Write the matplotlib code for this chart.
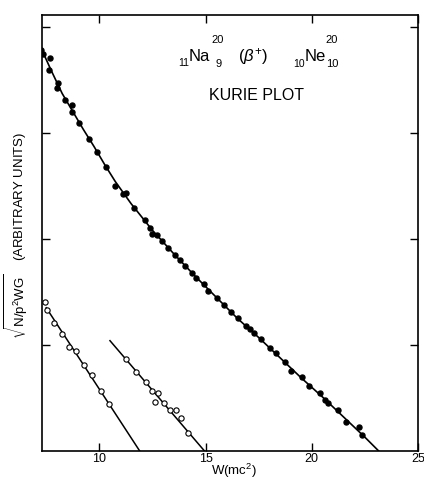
import matplotlib.pyplot as plt

plt.rcParams['font.family'] = ['Liberation Sans', 'DejaVu Sans']
plt.rcParams['mathtext.fontset'] = 'custom'
plt.rcParams['mathtext.rm'] = 'Liberation Sans'
plt.rcParams['mathtext.it'] = 'Liberation Sans:italic'

# Kurie plot, main group (filled dots)
w_main = [7.26, 7.37, 7.69, 7.65, 8.04, 8.00, 8.39, 8.72, 8.73, 9.06, 9.52, 9.89,
          10.30, 10.74, 11.13, 11.25, 11.64, 12.16, 12.39, 12.50, 12.72, 12.93,
          13.25, 13.56, 13.80, 14.05, 14.35, 14.57, 14.91, 15.13, 15.55, 15.87,
          16.18, 16.55, 16.90, 17.09, 17.30, 17.59, 18.04, 18.30, 18.73, 19.03,
          19.55, 19.86, 20.41, 20.61, 20.74, 21.25, 21.61, 22.21, 22.36]
k_main = [3.78, 3.74, 3.70, 3.59, 3.47, 3.42, 3.31, 3.26, 3.20, 3.09, 2.94, 2.82,
          2.68, 2.50, 2.42, 2.43, 2.29, 2.18, 2.10, 2.05, 2.04, 1.98,
          1.91, 1.85, 1.80, 1.74, 1.68, 1.63, 1.57, 1.51, 1.44, 1.38,
          1.31, 1.25, 1.18, 1.15, 1.11, 1.06, 0.97, 0.92, 0.84, 0.75,
          0.70, 0.61, 0.55, 0.48, 0.45, 0.39, 0.27, 0.23, 0.15]

# drawn curve through the main group
w_fit = [7.25, 7.75, 8.25, 8.75, 9.25, 9.75, 10.25, 10.75, 11.5, 12.5, 13.5,
         14.5, 15.5, 16.5, 17.5, 18.5, 19.5, 20.5, 21.5, 22.5, 23.15]
k_fit = [3.80, 3.58, 3.37, 3.20, 3.03, 2.87, 2.70, 2.54, 2.33, 2.08, 1.86,
         1.65, 1.45, 1.25, 1.07, 0.88, 0.69, 0.51, 0.32, 0.13, 0.0]

# first low group (open circles) and its line
w_low1 = [7.42, 7.55, 7.86, 8.23, 8.57, 8.89, 9.26, 9.65, 10.08, 10.47]
k_low1 = [1.40, 1.33, 1.21, 1.10, 0.98, 0.94, 0.81, 0.72, 0.57, 0.44]
w_line1 = [7.50, 11.90]
k_line1 = [1.35, 0.0]

# second low group (open circles) and its line
w_low2 = [11.27, 11.72, 12.19, 12.47, 12.78, 12.63, 13.02, 13.32, 13.60, 13.84, 14.18]
k_low2 = [0.87, 0.74, 0.65, 0.57, 0.55, 0.46, 0.45, 0.39, 0.39, 0.31, 0.17]
w_line2 = [10.50, 14.95]
k_line2 = [1.04, 0.0]

x_ticks = [10, 15, 20, 25]
y_ticks = [1, 2, 3, 4]

W, H = 424, 479
fig = plt.figure(figsize=(W / 100, H / 100), dpi=100)
ax = fig.add_axes([42 / W, 28 / H, 376 / W, 436 / H])

ax.plot(w_fit, k_fit, color='black', lw=1.2)
ax.plot(w_main, k_main, 'o', color='black', ms=3.6)
ax.plot(w_line1, k_line1, color='black', lw=1.1)
ax.plot(w_low1, k_low1, 'o', mfc='white', mec='black', ms=3.8, mew=0.8)
ax.plot(w_line2, k_line2, color='black', lw=1.1)
ax.plot(w_low2, k_low2, 'o', mfc='white', mec='black', ms=3.8, mew=0.8)

ax.set_xlim(7.3, 25.0)
ax.set_ylim(0, 4.11)
ax.set_xticks(x_ticks)
ax.set_yticks(y_ticks)
ax.set_yticklabels([])
ax.tick_params(direction='in', length=6, width=1, top=True, right=True,
               labelsize=9, pad=1.5)
for s in ax.spines.values():
    s.set_linewidth(1.2)


def px(x, y):
    return x / W, 1 - y / H


# header lettering
fig.text(*px(199, 60.7), 'Na', fontsize=12, ha='center', va='baseline')
fig.text(*px(183.5, 66), '11', fontsize=7.5, ha='center', va='baseline')
fig.text(*px(218, 43.3), '20', fontsize=8, ha='center', va='baseline')
fig.text(*px(219, 67.3), '9', fontsize=8, ha='center', va='baseline')
fig.text(*px(253, 61), r'$(\beta^{+})$', fontsize=12, ha='center', va='baseline')
fig.text(*px(315, 60.7), 'Ne', fontsize=12, ha='center', va='baseline')
fig.text(*px(299.5, 67), '10', fontsize=7.5, ha='center', va='baseline')
fig.text(*px(332, 43.3), '20', fontsize=8, ha='center', va='baseline')
fig.text(*px(332, 67.3), '10', fontsize=8, ha='center', va='baseline')
fig.text(*px(256.7, 100), 'KURIE PLOT', fontsize=11.5, ha='center', va='baseline')

# axis titles
fig.text(*px(234, 475), r'W(mc$^2$)', fontsize=9.5, ha='center', va='baseline')
fig.text(*px(16, 235), r'$\sqrt{\mathrm{N/p^2WG}}$    (ARBITRARY UNITS)',
         fontsize=9.5, rotation=90, ha='center', va='center')

fig.savefig('out.png', dpi=100)
